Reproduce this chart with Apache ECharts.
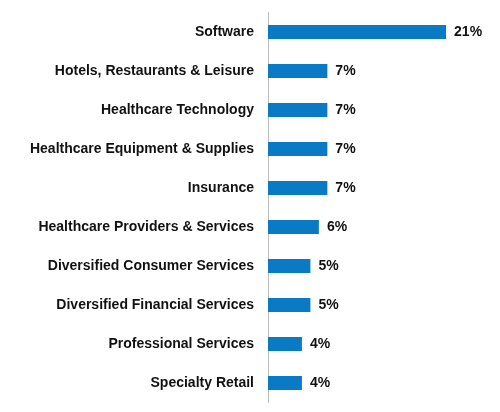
<!DOCTYPE html>
<html><head><meta charset="utf-8">
<script src="https://cdn.jsdelivr.net/npm/echarts@6/dist/echarts.min.js"></script>
<style>html,body{margin:0;padding:0;background:#fff}#c{width:500px;height:412px}</style>
</head><body><div id="c"></div>
<script>
const categories = ["Software","Hotels, Restaurants & Leisure","Healthcare Technology","Healthcare Equipment & Supplies","Insurance","Healthcare Providers & Services","Diversified Consumer Services","Diversified Financial Services","Professional Services","Specialty Retail"];
const values = [21,7,7,7,7,6,5,5,4,4];
const font = "'Liberation Sans',Arial,sans-serif";
const chart = echarts.init(document.getElementById('c'));
chart.setOption({
  animation:false,
  grid:{left:268,right:20,top:12.5,bottom:9.5},
  xAxis:{type:'value',min:0,max:25,show:false},
  yAxis:{type:'category',inverse:true,data:categories,
    axisLine:{show:true,lineStyle:{color:'#bbb',width:1}},
    axisTick:{show:false},
    axisLabel:{color:'#111',fontFamily:font,fontWeight:'bold',fontSize:14,margin:14}},
  series:[{type:'bar',data:values,barWidth:14,itemStyle:{color:'#0a7ac4'},
    label:{show:true,position:'right',distance:8,formatter:'{c}%',color:'#111',fontFamily:font,fontWeight:'bold',fontSize:14}}]
});
</script></body></html>
